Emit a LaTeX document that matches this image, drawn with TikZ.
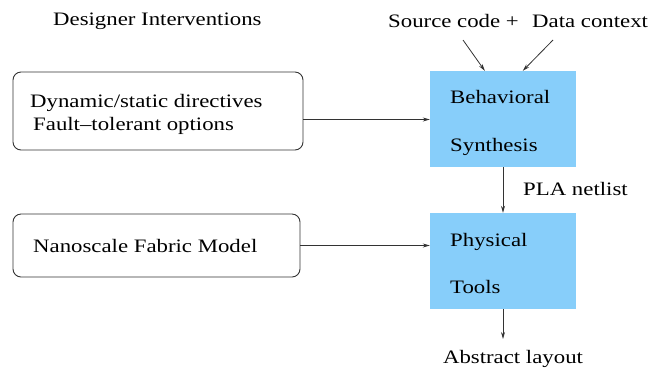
\documentclass[tikz,border=0pt]{standalone}
\usepackage{fontspec}
\setmainfont{Liberation Serif}
\usetikzlibrary{arrows.meta,calc}
\definecolor{skyb}{RGB}{135,206,250}
\newcommand{\wtxt}[1]{\scalebox{1.2}[1]{#1}}
\begin{document}
\begin{tikzpicture}[x=1pt,y=-1pt,
  txt/.style={inner sep=0pt,anchor=base west,font=\fontsize{19}{23}\selectfont},
  bluebox/.style={fill=skyb,draw=none,minimum width=146pt,minimum height=96pt,inner sep=0pt},
  roundbox/.style={draw=black!80,line width=0.9pt,rounded corners=8pt,inner sep=0pt},
  arr/.style={draw=black!80,line width=0.8pt,-{Stealth[length=7pt,width=4pt]}}]
\useasboundingbox (0,0) rectangle (660,368);
% boxes
\node[roundbox,minimum width=290pt,minimum height=78pt] (box1) at (158,111) {};
\node[roundbox,minimum width=287pt,minimum height=63pt] (box2) at (156.5,245.5) {};
\node[bluebox] (behav) at (503,119) {};
\node[bluebox] (phys) at (503,261) {};
% texts
\node[txt] (di) at (53,25) {\wtxt{Designer Interventions}};
\node[txt] (src) at (388,27) {\wtxt{Source code +}};
\node[txt] (dat) at (532,27) {\wtxt{Data context}};
\node[txt] (dyn) at (30,107) {\wtxt{Dynamic/static directives}};
\node[txt] (ft) at (33,130) {\wtxt{Fault--tolerant options}};
\node[txt] (nfm) at (33,252) {\wtxt{Nanoscale Fabric Model}};
\node[txt] (beh) at (450,103) {\wtxt{Behavioral}};
\node[txt] (syn) at (450,151) {\wtxt{Synthesis}};
\node[txt] (phy) at (450,246) {\wtxt{Physical}};
\node[txt] (too) at (450,293) {\wtxt{Tools}};
\node[txt] (pla) at (523,195) {\wtxt{PLA netlist}};
\node[txt,anchor=base] (abl) at (513,363) {\wtxt{Abstract layout}};
% connectors
\coordinate (s1) at (463,40);
\coordinate (s2) at (553,40);
\coordinate (out) at (503,339);
\draw[arr] (s1) -- ($(behav.north west)+(55,0)$);
\draw[arr] (s2) -- ($(behav.north west)+(93,0)$);
\draw[arr] ($(box1.east)+(0,8.5)$) -- ($(behav.west)+(0,0.5)$);
\draw[arr] (box2.east) -- (box2.east -| phys.west);
\draw[arr] (behav.south) -- (phys.north);
\draw[arr] (phys.south) -- (out);
\end{tikzpicture}
\end{document}
